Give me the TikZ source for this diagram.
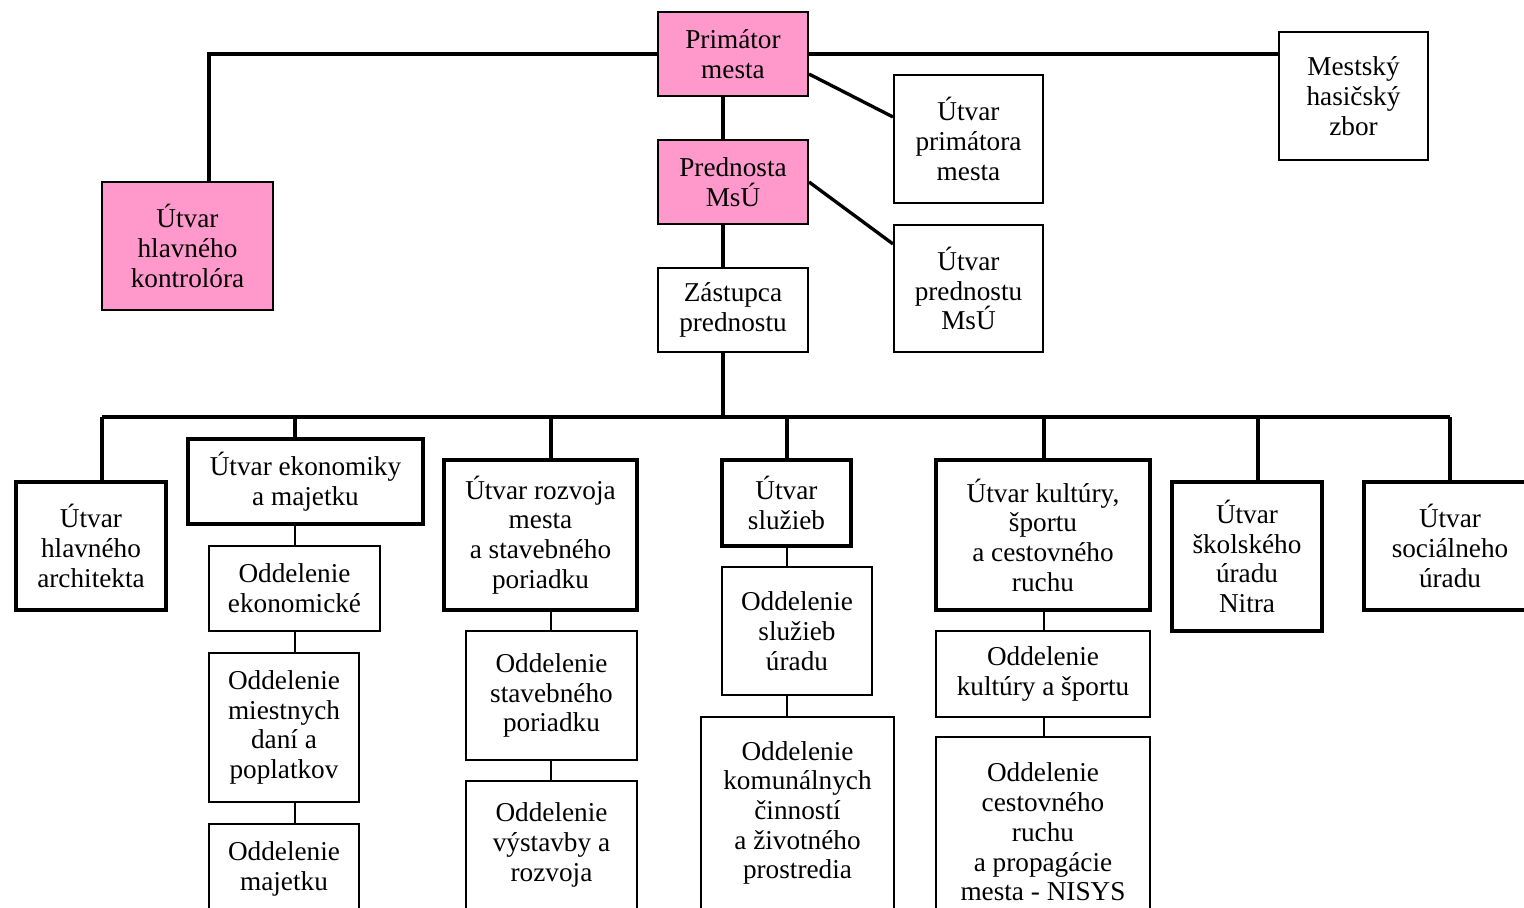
\documentclass[tikz,border=0pt]{standalone}
\usepackage{fontspec}
\setmainfont{Liberation Serif}
\usetikzlibrary{positioning, calc}
\definecolor{headpink}{RGB}{255, 153, 204}

\begin{document}
\begin{tikzpicture}[
    x=0.2mm, y=-0.2mm,
    box/.style={
        rectangle, draw, fill=white, align=center, inner sep=2pt,
        font=\fontsize{15.5}{16.9}\selectfont
    },
    size/.style 2 args={minimum width=#1*0.2mm, minimum height=#2*0.2mm},
    headbox/.style={box, line width=1.2pt},
    unitbox/.style={box, line width=2.2pt},
    deptbox/.style={box, line width=0.9pt},
    link/.style={line width=1.9pt},
    sublink/.style={line width=0.9pt}
]
\useasboundingbox (0,0) rectangle (1524,908);
\clip (0,0) rectangle (1524,908);

% Top management
\node[headbox, fill=headpink, size={150}{84}] (prim) at (733, 54) {Primátor\\mesta};
\node[headbox, fill=headpink, size={150}{84}] (pred) at (733, 182) {Prednosta\\MsÚ};
\node[headbox, size={150}{84}] (zast) at (733, 310) {Zástupca\\prednostu};

% Side units
\node[headbox, fill=headpink, size={171}{128}] (kontr) at (187.5, 246) {Útvar\\hlavného\\kontrolóra};
\node[headbox, size={149}{128}] (hasic) at (1353.5, 96) {Mestský\\hasičský\\zbor};
\node[headbox, size={149}{128}] (uprim) at (968.5, 139) {Útvar\\primátora\\mesta};
\node[headbox, size={149}{127}] (upred) at (968.5, 288.5) {Útvar\\prednostu\\MsÚ};

% Units
\node[unitbox, size={150}{128}] (arch) at (91, 546) {Útvar\\hlavného\\architekta};
\node[unitbox, size={235}{85}] (ekon) at (305.5, 481.5) {Útvar ekonomiky\\a majetku};
\node[unitbox, size={193}{150}] (rozv) at (540.5, 535) {Útvar rozvoja\\mesta\\a stavebného\\poriadku};
\node[unitbox, size={129}{86}] (sluz) at (786.5, 503) {Útvar\\služieb};
\node[unitbox, size={214}{150}] (kult) at (1043, 535) {Útvar kultúry,\\športu\\a cestovného\\ruchu};
\node[unitbox, size={150}{149}] (skol) at (1247, 556.5) {Útvar\\školského\\úradu\\Nitra};
\node[unitbox, size={172}{128}] (soc) at (1450, 546) {Útvar\\sociálneho\\úradu};

% Departments
\node[deptbox, size={171}{85}] (oEkon) at (294.5, 588.5) {Oddelenie\\ekonomické};
\node[deptbox, size={150}{149}] (oDane) at (284, 727.5) {Oddelenie\\miestnych\\daní a\\poplatkov};
\node[deptbox, size={150}{90}] (oMaj) at (284, 869) {Oddelenie\\majetku};
\node[deptbox, size={171}{129}] (oStav) at (551.5, 695.5) {Oddelenie\\stavebného\\poriadku};
\node[deptbox, size={171}{128}] (oVyst) at (551.5, 845) {Oddelenie\\výstavby a\\rozvoja};
\node[deptbox, size={150}{128}] (oSluz) at (797, 631) {Oddelenie\\služieb\\úradu};
\node[deptbox, size={193}{192}] (oKom) at (797.5, 813) {Oddelenie\\komunálnych\\činností\\a životného\\prostredia};
\node[deptbox, size={214}{86}] (oKult) at (1043, 674) {Oddelenie\\kultúry a športu};
\node[deptbox, size={214}{190}] (oCest) at (1043, 832) {Oddelenie\\cestovného\\ruchu\\a propagácie\\mesta - NISYS};

% Bus
\coordinate (spine) at (723, 417);
\coordinate (busL) at (102, 417);
\coordinate (busR) at (1450, 417);

% Links at the top
\draw[link] (prim.west) -| ($(kontr.north)+(21.5,0)$);
\draw[link] (prim.east) -- (prim.east -| hasic.west);
\draw[link] ($(prim.south east)+(0,-23)$) -- ($(uprim.north west)+(0,43)$);
\draw[link] (pred.east) -- ($(upred.north west)+(0,20)$);
\draw[link] (prim.south -| spine) -- (pred.north -| spine);
\draw[link] (pred.south -| spine) -- (zast.north -| spine);
\draw[link] (zast.south -| spine) -- (spine);
\draw[link] (busL) -- (busR);

% Drops to units
\foreach \x/\n in {102/arch, 295/ekon, 551/rozv, 787/sluz, 1044/kult, 1258/skol, 1450/soc} {
    \coordinate (d\n) at (\x, 417);
    \draw[link] (d\n) -- (d\n |- \n.north);
}

% Links to departments
\draw[sublink] (ekon.south -| dekon) -- (oEkon.north -| dekon);
\draw[sublink] (oEkon.south -| dekon) -- (oDane.north -| dekon);
\draw[sublink] (oDane.south -| dekon) -- (oMaj.north -| dekon);
\draw[sublink] (rozv.south -| drozv) -- (oStav.north -| drozv);
\draw[sublink] (oStav.south -| drozv) -- (oVyst.north -| drozv);
\draw[sublink] (sluz.south -| dsluz) -- (oSluz.north -| dsluz);
\draw[sublink] (oSluz.south -| dsluz) -- (oKom.north -| dsluz);
\draw[sublink] (kult.south -| dkult) -- (oKult.north -| dkult);
\draw[sublink] (oKult.south -| dkult) -- (oCest.north -| dkult);

\end{tikzpicture}
\end{document}
